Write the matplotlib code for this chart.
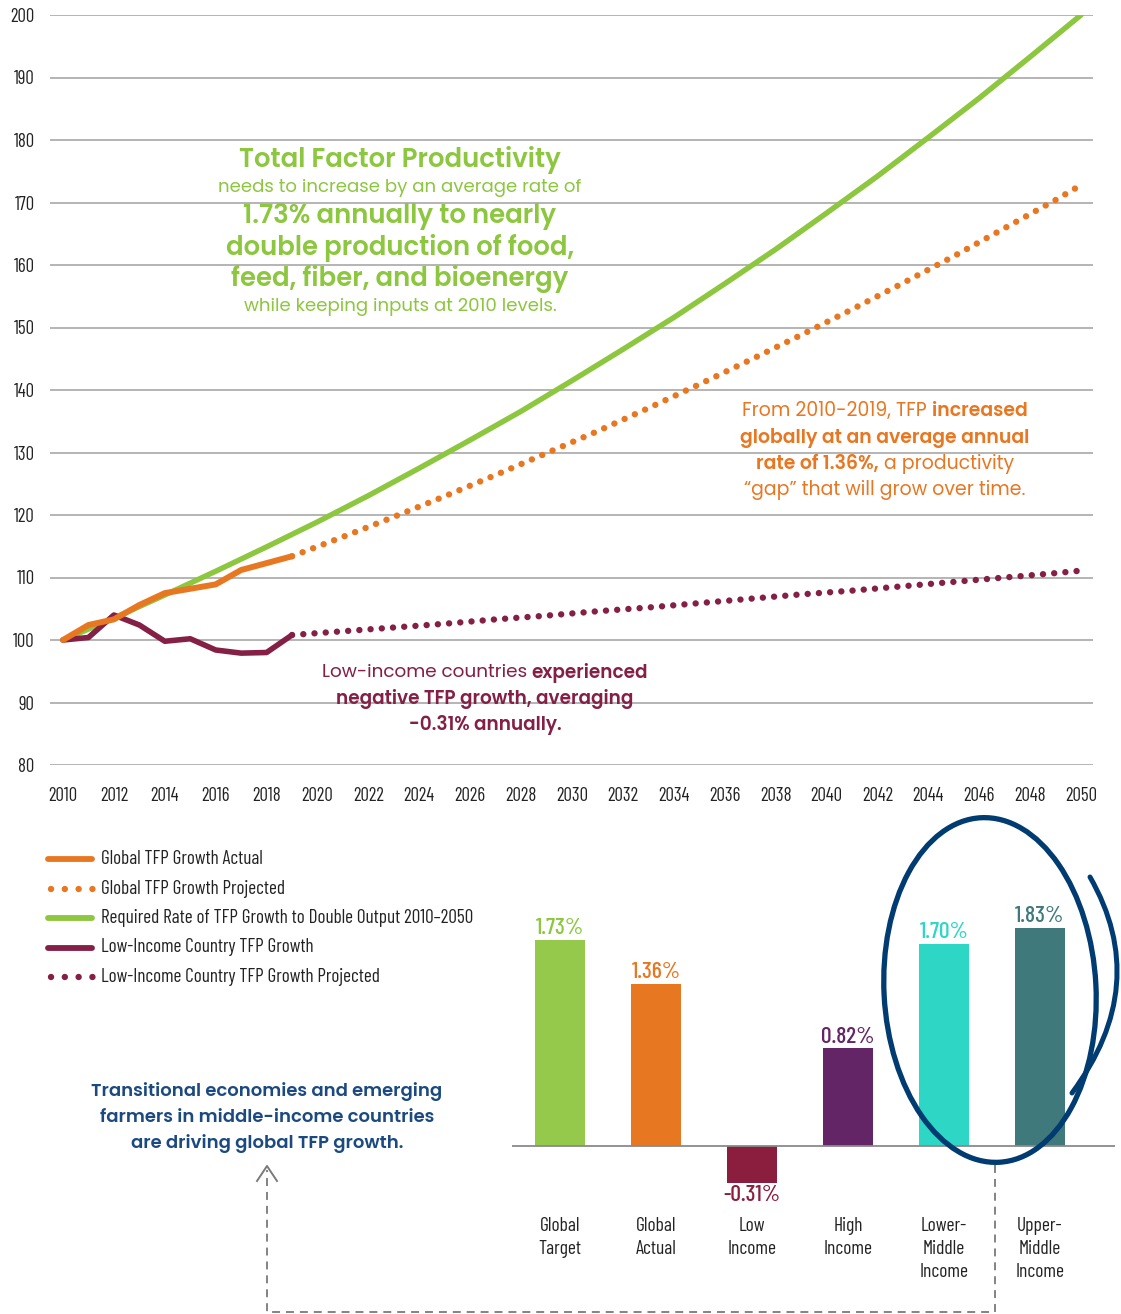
import matplotlib
matplotlib.use('Agg')
import matplotlib.pyplot as plt
from matplotlib.patches import Ellipse, PathPatch
from matplotlib.path import Path
from matplotlib.lines import Line2D

# ---- data ----
years_actual = [2010, 2011, 2012, 2013, 2014, 2015, 2016, 2017, 2018, 2019]
global_actual = [100, 102.4, 103.3, 105.6, 107.5, 108.2, 108.9, 111.2, 112.3, 113.4]
low_actual = [100, 100.4, 104.0, 102.4, 99.8, 100.2, 98.4, 97.9, 98.0, 100.8]

years_proj = [2019, 2021, 2023, 2025, 2027, 2029, 2031, 2033, 2035, 2037,
              2039, 2041, 2043, 2045, 2047, 2049, 2050]
global_proj = [113.4, 116.5, 119.7, 123.0, 126.4, 129.9, 133.4, 137.1, 140.9, 144.8,
               148.8, 152.9, 157.1, 161.4, 165.9, 170.4, 172.8]
low_proj = [100.8, 101.4, 102.0, 102.6, 103.3, 103.9, 104.6, 105.2, 105.9, 106.6,
            107.3, 107.9, 108.6, 109.3, 110.0, 110.7, 111.1]

years_req = [2010, 2012, 2014, 2016, 2018, 2020, 2022, 2024, 2026, 2028, 2030,
             2032, 2034, 2036, 2038, 2040, 2042, 2044, 2046, 2048, 2050]
required = [100, 103.5, 107.2, 111.0, 114.9, 118.9, 123.1, 127.5, 132.0, 136.6, 141.5,
            146.5, 151.6, 157.0, 162.5, 168.3, 174.2, 180.4, 186.7, 193.3, 200.0]

bar_cats = ['Global\nTarget', 'Global\nActual', 'Low\nIncome', 'High\nIncome',
            'Lower-\nMiddle\nIncome', 'Upper-\nMiddle\nIncome']
bar_vals = [1.73, 1.36, -0.31, 0.82, 1.70, 1.83]
bar_colors = ['#94c94b', '#e87722', '#8b1e3f', '#642566', '#2ed6c5', '#40797b']
label_colors = ['#8dc63f', '#e87722', '#8b1e3f', '#642566', '#2ed6c5', '#40797b']

GREEN = '#8dc63f'
ORANGE = '#e87722'
CRIMSON = '#841f45'
NAVY = '#003b71'

COND = 'Barlow Condensed'
ANNOT = ['Poppins', 'DejaVu Sans']

W, H = 1121, 1314
fig = plt.figure(figsize=(W / 100, H / 100), dpi=100)

# ---- line chart ----
ax = fig.add_axes([50 / W, 1 - 765 / H, 1043 / W, 750 / H])
ax.set_xlim(2010 - 13 / 25.45, 2050 + 12 / 25.45)
ax.set_ylim(80, 200)
ax.set_yticks(range(80, 201, 10))
ax.set_xticks(range(2010, 2051, 2))
ax.grid(axis='y', color='#a8a8a8', lw=1.2)
ax.set_axisbelow(True)
for s in ax.spines.values():
    s.set_visible(False)
ax.tick_params(length=0, labelsize=13.5, labelcolor='#222222')
ax.tick_params(axis='y', pad=11)
ax.tick_params(axis='x', pad=16)
for lab in ax.get_xticklabels() + ax.get_yticklabels():
    lab.set_fontfamily(COND)

dot = dict(lw=4.6, linestyle=(0, (0.01, 1.75)), dash_capstyle='round')
ax.plot(years_req, required, color=GREEN, lw=3.9, solid_capstyle='round', zorder=3)
ax.plot(years_proj, low_proj, color=CRIMSON, zorder=3, **dot)
ax.plot(years_actual, low_actual, color=CRIMSON, lw=4.0, solid_joinstyle='round',
        solid_capstyle='round', zorder=4)
ax.plot(years_proj, global_proj, color=ORANGE, zorder=4, **dot)
ax.plot(years_actual, global_actual, color=ORANGE, lw=4.3, solid_joinstyle='round',
        solid_capstyle='round', zorder=5)

# ---- bar chart ----
ax2 = fig.add_axes([512 / W, 1 - 1210 / H, 603 / W, 330 / H])
ax2.set_xlim(-0.5, 5 + 75 / 96)
ax2.set_ylim(-(1210 - 1146) / 119, (1146 - 880) / 119)
ax2.bar(range(len(bar_vals)), bar_vals, width=0.52, color=bar_colors, zorder=2)
ax2.axhline(0, color='#8a8a8a', lw=1.3, zorder=3)
for s in ax2.spines.values():
    s.set_visible(False)
ax2.set_yticks([])
ax2.set_xticks(range(len(bar_cats)))
ax2.set_xticklabels(bar_cats, fontfamily=COND, fontsize=14, color='#222222',
                    linespacing=1.35, va='top')
ax2.tick_params(length=0, pad=5)
for i, v in enumerate(bar_vals):
    off = 0.015 if v > 0 else -0.015
    ax2.text(i, v + off, f'{v:.2f}%', ha='center', va='bottom' if v > 0 else 'top',
             fontfamily=COND, fontweight=500, fontsize=17, color=label_colors[i])

# ---- overlay in pixel coordinates for annotations ----
ov = fig.add_axes([0, 0, 1, 1], facecolor='none')
ov.set_xlim(0, W)
ov.set_ylim(H, 0)
ov.axis('off')

renderer = fig.canvas.get_renderer()


def rich_line(xc, y, parts, color, size):
    texts = [ov.text(0, y, s, fontsize=size, fontweight=600 if b else 'normal',
                     color=color, va='center', ha='left', family=ANNOT)
             for s, b in parts]
    widths = [t.get_window_extent(renderer).width for t in texts]
    x = xc - sum(widths) / 2
    for t, w in zip(texts, widths):
        t.set_x(x)
        x += w


# green block
rich_line(400, 160, [('Total Factor Productivity', True)], GREEN, 18.7)
rich_line(400, 188, [('needs to increase by an average rate of', False)], GREEN, 13.1)
rich_line(400, 217, [('1.73% annually to nearly', True)], GREEN, 18.7)
rich_line(400, 248, [('double production of food,', True)], GREEN, 18.7)
rich_line(400, 279, [('feed, fiber, and bioenergy', True)], GREEN, 18.7)
rich_line(400, 307, [('while keeping inputs at 2010 levels.', False)], GREEN, 13.1)

# orange block
rich_line(885, 411, [('From 2010-2019, TFP ', False), ('increased', True)], ORANGE, 13.6)
rich_line(885, 438, [('globally at an average annual', True)], ORANGE, 13.6)
rich_line(885, 464, [('rate of 1.36%,', True), (' a productivity', False)], ORANGE, 13.6)
rich_line(885, 490, [('\u201cgap\u201d that will grow over time.', False)], ORANGE, 13.6)

# low-income block
rich_line(485, 673, [('Low-income countries ', False), ('experienced', True)], CRIMSON, 13.3)
rich_line(485, 699, [('negative TFP growth, averaging', True)], CRIMSON, 13.3)
rich_line(485, 725, [('-0.31% annually.', True)], CRIMSON, 13.3)

# blue note
for y, s in zip([1092, 1118, 1144], ['Transitional economies and emerging',
                                     'farmers in middle-income countries',
                                     'are driving global TFP growth.']):
    rich_line(267, y, [(s, True)], '#1b4a80', 13)

# legend
leg_items = [('Global TFP Growth Actual', ORANGE, False),
             ('Global TFP Growth Projected', ORANGE, True),
             ('Required Rate of TFP Growth to Double Output 2010\u20132050', GREEN, False),
             ('Low-Income Country TFP Growth', CRIMSON, False),
             ('Low-Income Country TFP Growth Projected', CRIMSON, True)]
for k, (name, col, dotted) in enumerate(leg_items):
    y = 859 + k * 29.5
    if dotted:
        ov.plot([51, 93], [y, y], color=col, lw=4.6, linestyle=(0, (0.01, 2.15)),
                dash_capstyle='round')
    else:
        ov.plot([48, 92], [y, y], color=col, lw=4.2, solid_capstyle='round')
    ov.text(101, y, name, fontfamily=COND, fontsize=13.8, color='#222222', va='center')

# circle around middle-income bars
ov.add_patch(Ellipse((990, 990), 212, 345, angle=-3, fill=False, ec=NAVY, lw=3.8))
stroke = Path([(1090, 877), (1152, 985), (1072, 1093)],
              [Path.MOVETO, Path.CURVE3, Path.CURVE3])
ov.add_patch(PathPatch(stroke, fill=False, ec=NAVY, lw=3.6, capstyle='round'))

# dashed connector with arrow
conn = Line2D([995, 995, 267, 267], [1165, 1312, 1312, 1170], color='#7a7a7a', lw=1.3)
conn.set_dashes((4.4, 3.3))
ov.add_line(conn)
ov.plot([257, 267, 277], [1181, 1166, 1181], color='#7a7a7a', lw=1.4)

fig.savefig('out.png', dpi=100)
